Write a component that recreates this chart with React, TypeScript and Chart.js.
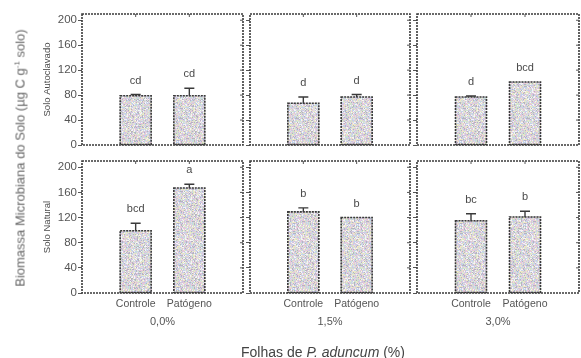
import React, { useEffect, useRef } from "react";
import { Chart, registerables } from "chart.js";

Chart.register(...registerables);

// ---- data ----
const categories = ["Controle", "Patógeno"];
const leafLevels = ["0,0%", "1,5%", "3,0%"];
const rowNames = ["Solo Autoclavado", "Solo Natural"];

const autoclavedMeans = [
  [79, 79],
  [67, 77],
  [77, 101],
];
const autoclavedErrors = [
  [2, 12],
  [10, 4],
  [1.5, 0],
];
const autoclavedLetters = [
  ["cd", "cd"],
  ["d", "d"],
  ["d", "bcd"],
];

const naturalMeans = [
  [99, 167],
  [129, 120],
  [115, 121],
];
const naturalErrors = [
  [12, 6],
  [6.5, 0],
  [11, 9],
];
const naturalLetters = [
  ["bcd", "a"],
  ["b", "b"],
  ["bc", "b"],
];

const yTicks = [0, 40, 80, 120, 160, 200];
const yMax = 210;

// ---- layout ----
const FONT = "'Liberation Sans', Arial, Helvetica, sans-serif";
const INK = "#3a3a3a";
const TEXT = "#555";
const colLeft = [82, 250, 417];
const colRight = [243, 410, 579];
const rowTop = [14, 161];
const rowBottom = [145, 293];
const yAxisW = [82, 6, 6];
const xAxisH = [6, 36];
const PAD = 3;

function makeSpeckle(): CanvasPattern | string {
  const size = 64;
  const c = document.createElement("canvas");
  c.width = size;
  c.height = size;
  const g = c.getContext("2d");
  if (!g) return "#d8d8dc";
  const img = g.createImageData(size, size);
  const palette = [
    [232, 200, 218],
    [196, 210, 236],
    [208, 228, 204],
    [238, 232, 198],
    [180, 180, 192],
    [222, 222, 228],
    [244, 244, 246],
    [210, 196, 222],
  ];
  let s = 987654321;
  for (let i = 0; i < size * size; i++) {
    s = (s * 1664525 + 1013904223) >>> 0;
    const col = palette[(s >>> 16) % palette.length];
    img.data[i * 4] = col[0];
    img.data[i * 4 + 1] = col[1];
    img.data[i * 4 + 2] = col[2];
    img.data[i * 4 + 3] = 255;
  }
  g.putImageData(img, 0, 0);
  const ctx = document.createElement("canvas").getContext("2d");
  return ctx ? (ctx.createPattern(c, "repeat") as CanvasPattern) : "#d8d8dc";
}

function makeDeco(errors: number[], letters: string[]) {
  return {
    id: "panelDeco",
    afterDatasetsDraw(chart: any) {
      const { ctx, chartArea: a, scales } = chart;
      const ys = scales.y;
      const xs = scales.x;
      const meta = chart.getDatasetMeta(0);
      const vals = chart.data.datasets[0].data;
      ctx.save();
      ctx.strokeStyle = INK;
      meta.data.forEach((bar: any, i: number) => {
        const v = vals[i];
        if (v == null) return;
        const k = i - 1;
        const { x, y, base, width } = bar.getProps(["x", "y", "base", "width"], true);
        ctx.setLineDash([2, 1]);
        ctx.lineWidth = 1.6;
        ctx.strokeRect(x - width / 2, y, width, base - y);
        ctx.setLineDash([]);
        const e = errors[k] || 0;
        const yt = ys.getPixelForValue(v + e);
        if (e > 0) {
          ctx.lineWidth = 1.4;
          ctx.beginPath();
          ctx.moveTo(x, y);
          ctx.lineTo(x, yt);
          ctx.moveTo(x - 5, yt);
          ctx.lineTo(x + 5, yt);
          ctx.stroke();
        }
        ctx.fillStyle = "#4a4a4a";
        ctx.font = `11px ${FONT}`;
        ctx.textAlign = "center";
        ctx.textBaseline = "middle";
        ctx.fillText(letters[k], x, yt - 14);
      });
      // frame
      ctx.setLineDash([2, 1]);
      ctx.lineWidth = 1.6;
      ctx.strokeRect(a.left, a.top, a.right - a.left, a.bottom - a.top);
      ctx.setLineDash([]);
      // inward mirrored ticks
      ctx.lineWidth = 1;
      ctx.strokeStyle = TEXT;
      ctx.beginPath();
      yTicks.forEach((t) => {
        if (t === 0) return;
        const py = ys.getPixelForValue(t);
        ctx.moveTo(a.right, py);
        ctx.lineTo(a.right - 3, py);
      });
      [1, 2].forEach((idx) => {
        const px = xs.getPixelForValue(idx);
        ctx.moveTo(px, a.top);
        ctx.lineTo(px, a.top + 3);
      });
      ctx.stroke();
      ctx.restore();
    },
  };
}

function Panel({ row, col }: { row: number; col: number }) {
  const ref = useRef<HTMLCanvasElement>(null);
  const left = colLeft[col] - yAxisW[col];
  const top = rowTop[row] - PAD;
  const width = colRight[col] - colLeft[col] + yAxisW[col] + PAD;
  const height = rowBottom[row] - rowTop[row] + PAD + xAxisH[row];

  useEffect(() => {
    if (!ref.current) return;
    const means = row === 0 ? autoclavedMeans[col] : naturalMeans[col];
    const errs = row === 0 ? autoclavedErrors[col] : naturalErrors[col];
    const lets = row === 0 ? autoclavedLetters[col] : naturalLetters[col];
    const fill = makeSpeckle();
    const chart = new Chart(ref.current, {
      type: "bar",
      data: {
        labels: ["", ...categories, ""],
        datasets: [
          {
            data: [null, ...means, null],
            backgroundColor: fill as any,
            borderWidth: 0,
            barThickness: 31,
          },
        ],
      },
      options: {
        animation: false,
        responsive: false,
        maintainAspectRatio: false,
        events: [],
        layout: { padding: { top: PAD, right: PAD, left: 0, bottom: 0 } },
        plugins: { legend: { display: false }, tooltip: { enabled: false } },
        scales: {
          x: {
            type: "category",
            offset: false,
            grid: { display: false, drawTicks: false },
            border: { display: false },
            ticks: {
              display: row === 1,
              autoSkip: false,
              maxRotation: 0,
              padding: 5,
              color: TEXT,
              font: { family: FONT, size: 10.5 },
            },
            title: {
              display: row === 1,
              text: leafLevels[col],
              color: TEXT,
              font: { family: FONT, size: 11 },
              padding: 0,
            },
            afterFit: (s: any) => {
              s.height = xAxisH[row];
              s.paddingLeft = 0;
              s.paddingRight = 0;
            },
          },
          y: {
            min: 0,
            max: yMax,
            ticks: {
              stepSize: 40,
              includeBounds: false,
              display: col === 0,
              padding: 1,
              color: TEXT,
              font: { family: FONT, size: 11.5 },
            },
            grid: {
              display: true,
              drawOnChartArea: false,
              drawTicks: true,
              tickLength: 4,
              color: TEXT,
            },
            border: { display: false },
            title: {
              display: col === 0,
              text: rowNames[row],
              color: "#4a4a4a",
              font: { family: FONT, size: 9.5 },
              padding: { top: 42, bottom: 0 },
            },
            afterFit: (s: any) => {
              s.width = yAxisW[col];
              s.paddingTop = 0;
              s.paddingBottom = 0;
            },
          },
        },
      },
      plugins: [makeDeco(errs, lets)],
    } as any);
    return () => chart.destroy();
  }, [row, col]);

  return (
    <canvas
      ref={ref}
      width={width}
      height={height}
      style={{ position: "absolute", left, top, width, height }}
    />
  );
}

export default function App() {
  const panels = [];
  for (let r = 0; r < 2; r++) for (let c = 0; c < 3; c++) panels.push(<Panel key={`${r}-${c}`} row={r} col={c} />);
  return (
    <div
      style={{
        position: "fixed",
        left: 0,
        top: 0,
        width: 581,
        height: 358,
        background: "#fff",
        overflow: "hidden",
        fontFamily: FONT,
      }}
    >
      {panels}
      <div
        style={{
          position: "absolute",
          left: 20,
          top: 158,
          transform: "translate(-50%, -50%) rotate(-90deg)",
          whiteSpace: "nowrap",
          fontSize: 13,
          fontWeight: 400,
          color: "#666",
          lineHeight: "15px",
        }}
      >
        Biomassa Microbiana do Solo (µg C g<sup style={{ fontSize: 8, verticalAlign: "5px", lineHeight: 0 }}>-1</sup> solo)
      </div>
      <div
        style={{
          position: "absolute",
          left: 323,
          top: 352,
          transform: "translate(-50%, -50%)",
          whiteSpace: "nowrap",
          fontSize: 14,
          color: "#444",
          lineHeight: "16px",
        }}
      >
        Folhas de <i>P. aduncum</i> (%)
      </div>
    </div>
  );
}
